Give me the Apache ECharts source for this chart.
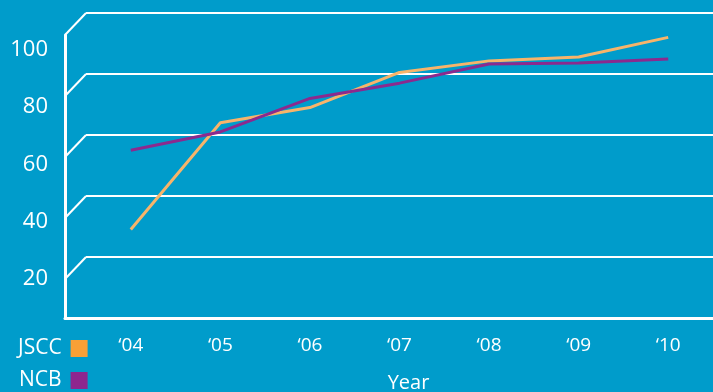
<!DOCTYPE html>
<html>
<head>
<meta charset="utf-8">
<script src="https://cdn.jsdelivr.net/npm/echarts@6/dist/echarts.min.js"></script>
<style>
  html, body { margin: 0; padding: 0; background: #009ccb; }
  #main { width: 713px; height: 392px; }
</style>
</head>
<body>
<div id="main"></div>
<script>
// data
var years = ['\u201804', '\u201805', '\u201806', '\u201807', '\u201808', '\u201809', '\u201810'];
var jscc = [29, 64, 69, 80.5, 84.3, 85.6, 92];
var ncb = [55, 61, 72, 77, 83.3, 83.6, 84.9];
var yTicks = [20, 40, 60, 80, 100];

var font = '"Open Sans", "Noto Sans", sans-serif';
var white = '#ffffff';

var chart = echarts.init(document.getElementById('main'), null, { renderer: 'canvas' });

var option = {
  backgroundColor: '#009ccb',
  animation: false,
  textStyle: { fontFamily: font, color: white },
  legend: {
    orient: 'vertical',
    align: 'right',
    left: 18,
    top: 338,
    padding: 0,
    itemWidth: 17,
    itemHeight: 17,
    itemGap: 11,
    icon: 'rect',
    textStyle: { color: white, fontSize: 21, lineHeight: 17, fontFamily: font, padding: [0, 4, 0, 0] },
    data: ['JSCC', 'NCB']
  },
  grid: [
    // back plane: gridlines + data
    { left: 86, right: 0, top: 13, bottom: 74, outerBoundsMode: 'none' },
    // front frame: left + bottom lines
    { left: 65, right: 0, top: 35, bottom: 74, outerBoundsMode: 'none' },
    // tick labels
    { left: 65, right: 0, top: 50, bottom: 56, outerBoundsMode: 'none' }
  ],
  xAxis: [
    {
      gridIndex: 0,
      type: 'category',
      data: years,
      boundaryGap: true,
      axisLine: { show: false },
      axisTick: { show: false },
      axisLabel: { color: white, fontSize: 19, fontFamily: font, margin: 18 },
      name: 'Year',
      nameLocation: 'middle',
      nameGap: 55,
      nameTextStyle: { color: white, fontSize: 20, fontFamily: font, padding: [0, 0, 0, 18] }
    },
    {
      gridIndex: 1,
      type: 'value',
      min: 0, max: 1,
      axisLine: { show: true, onZero: false, lineStyle: { color: white, width: 3 } },
      axisTick: { show: false },
      axisLabel: { show: false },
      splitLine: { show: false }
    },
    {
      gridIndex: 2,
      type: 'value',
      show: false
    }
  ],
  yAxis: [
    {
      gridIndex: 0,
      type: 'value',
      min: 0, max: 100, interval: 20,
      axisLine: { show: false },
      axisTick: { show: false },
      axisLabel: { show: false },
      splitLine: { show: true, lineStyle: { color: white, width: 2 } }
    },
    {
      gridIndex: 1,
      type: 'value',
      min: 0, max: 1,
      axisLine: { show: true, onZero: false, lineStyle: { color: white, width: 3 } },
      axisTick: { show: false },
      axisLabel: { show: false },
      splitLine: { show: false }
    },
    {
      gridIndex: 2,
      type: 'value',
      min: 0, max: 100, interval: 20,
      axisLine: { show: false },
      axisTick: { show: false },
      splitLine: { show: false },
      axisLabel: {
        color: white, fontSize: 22, fontFamily: font, margin: 17,
        showMinLabel: false
      }
    }
  ],
  series: [
    {
      // slanted stubs joining the front frame to each back gridline
      type: 'custom',
      xAxisIndex: 0,
      yAxisIndex: 0,
      silent: true,
      data: yTicks.map(function (v) { return [0, v]; }),
      renderItem: function (params, api) {
        var cs = params.coordSys;
        var y = api.coord([api.value(0), api.value(1)])[1];
        return {
          type: 'line',
          shape: { x1: cs.x - 21, y1: y + 22, x2: cs.x, y2: y },
          style: { stroke: white, lineWidth: 2 }
        };
      }
    },
    {
      name: 'JSCC',
      type: 'line',
      xAxisIndex: 0,
      yAxisIndex: 0,
      data: jscc,
      symbol: 'none',
      itemStyle: { color: '#f9a036' },
      lineStyle: { color: '#f7b46a', width: 3 },
      z: 3
    },
    {
      name: 'NCB',
      type: 'line',
      xAxisIndex: 0,
      yAxisIndex: 0,
      data: ncb,
      symbol: 'none',
      itemStyle: { color: '#8e268e' },
      lineStyle: { color: '#8b2a8e', width: 3 },
      z: 4
    }
  ]
};

chart.setOption(option);
</script>
</body>
</html>
